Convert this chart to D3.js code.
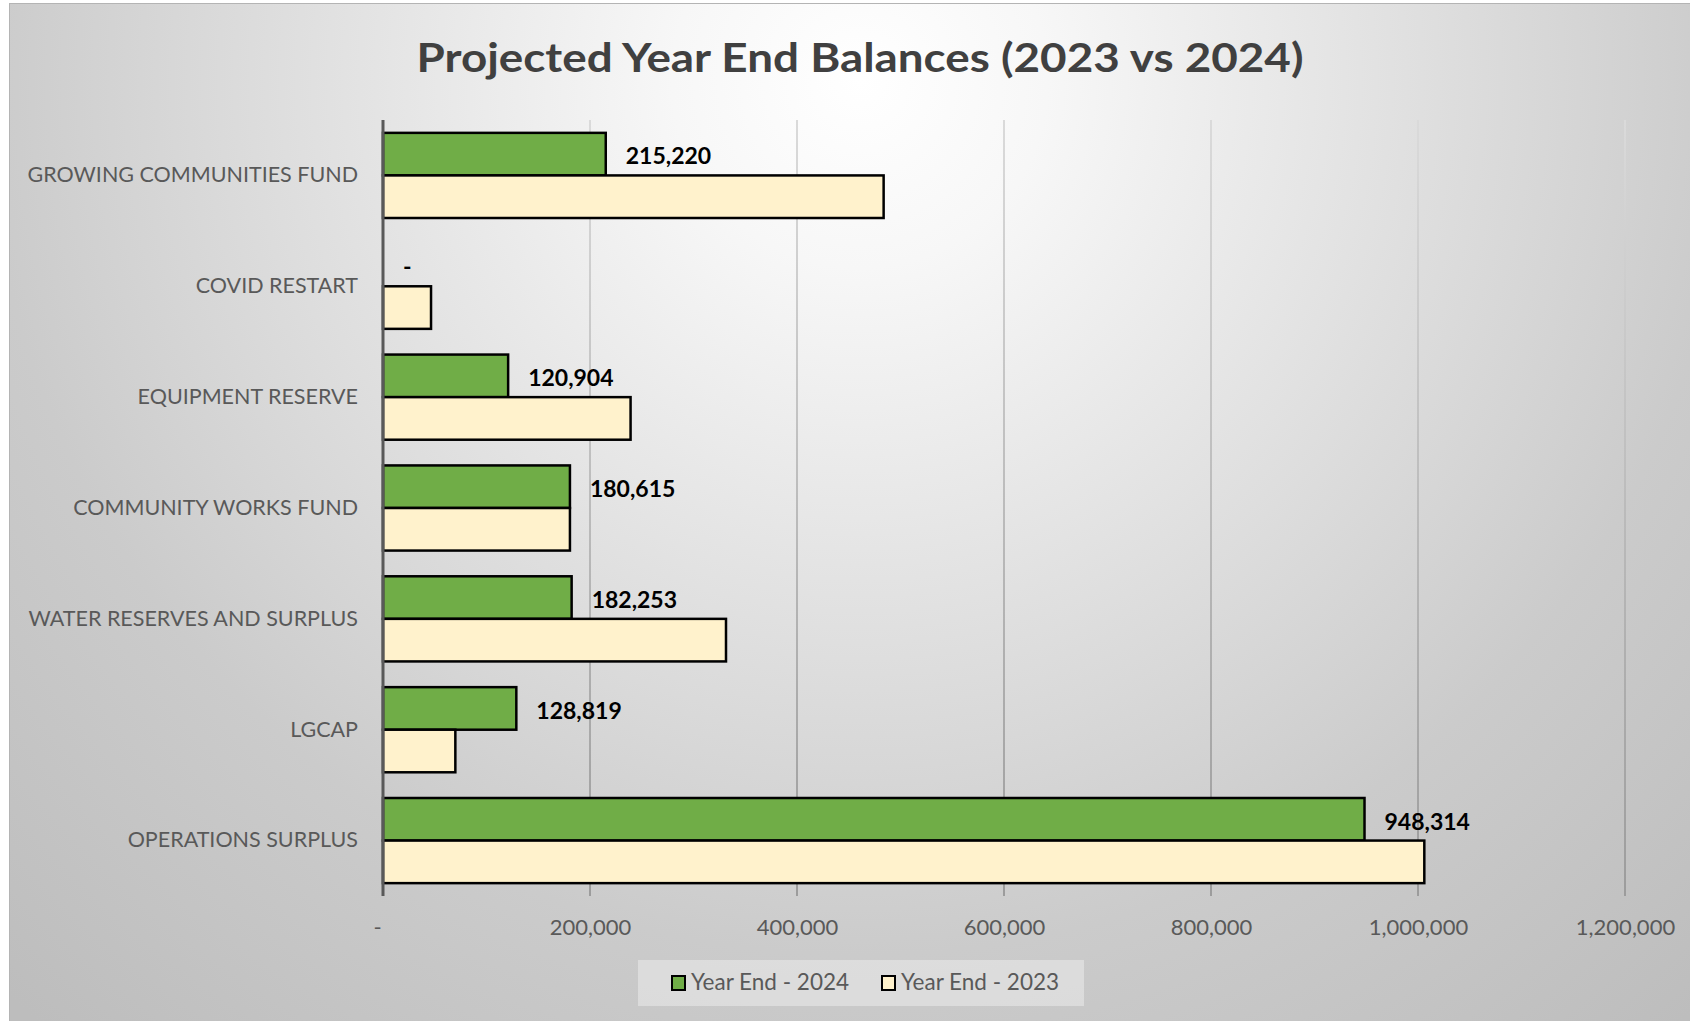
<!DOCTYPE html>
<html>
<head>
<meta charset="utf-8">
<script src="https://cdn.jsdelivr.net/npm/d3@7"></script>
<style>
  html, body { margin: 0; padding: 0; background: #fff; }
  svg { display: block; }
  text { font-family: Lato, "Open Sans", sans-serif; }
</style>
</head>
<body>
<svg id="chart" width="1690" height="1021"></svg>
<script>
    // chart data
    var categories = [
        "GROWING COMMUNITIES FUND",
        "COVID RESTART",
        "EQUIPMENT RESERVE",
        "COMMUNITY WORKS FUND",
        "WATER RESERVES AND SURPLUS",
        "LGCAP",
        "OPERATIONS SURPLUS"
    ];
    var seriesNames = ["Year End - 2024", "Year End - 2023"];
    var values2024 = [215220, 0, 120904, 180615, 182253, 128819, 948314];
    var values2023 = [483700, 46400, 239200, 180615, 331400, 69900, 1006100];
    var xTicks = [0, 200000, 400000, 600000, 800000, 1000000, 1200000];
    var xMax = 1200000;

    var green = "#70ad47", cream = "#fff2cc";
    var plotLeft = 383, plotRight = 1625, plotTop = 120, plotBottom = 896;

    var svg = d3.select("#chart");
    var defs = svg.append("defs");

    var bgGrad = defs.append("radialGradient")
        .attr("id", "bgGrad")
        .attr("gradientUnits", "userSpaceOnUse")
        .attr("cx", 860).attr("cy", 80).attr("r", 1250);
    bgGrad.append("stop").attr("offset", 0).attr("stop-color", "#ffffff");
    bgGrad.append("stop").attr("offset", 0.15).attr("stop-color", "#f7f7f7");
    bgGrad.append("stop").attr("offset", 0.7).attr("stop-color", "#cbcbcb");
    bgGrad.append("stop").attr("offset", 1).attr("stop-color", "#bdbdbd");

    var gridGrad = defs.append("linearGradient")
        .attr("id", "gridGrad")
        .attr("gradientUnits", "userSpaceOnUse")
        .attr("x1", 0).attr("y1", plotTop).attr("x2", 0).attr("y2", plotBottom);
    gridGrad.append("stop").attr("offset", 0).attr("stop-color", "#dadada");
    gridGrad.append("stop").attr("offset", 1).attr("stop-color", "#9c9c9c");

    // chart area
    svg.append("rect")
        .attr("x", 9.5).attr("y", 3.5)
        .attr("width", 1700).attr("height", 1040)
        .attr("fill", "url(#bgGrad)")
        .attr("stroke", "#b4b4b4")
        .attr("stroke-width", 1);

    var x = d3.scaleLinear().domain([0, xMax]).range([plotLeft, plotRight]);
    var y = d3.scaleBand().domain(categories).range([plotTop, plotBottom]);
    var barH = y.bandwidth() * 0.384;
    var gap = (y.bandwidth() - 2 * barH) / 2;

    // gridlines
    svg.append("g")
        .selectAll("line")
        .data(xTicks.slice(1))
        .enter()
        .append("line")
        .attr("x1", d => x(d)).attr("x2", d => x(d))
        .attr("y1", plotTop).attr("y2", plotBottom)
        .attr("stroke", "url(#gridGrad)")
        .attr("stroke-width", 2);

    // bars
    var bars = svg.append("g");
    bars.selectAll("rect.y2024")
        .data(categories)
        .enter()
        .append("rect")
        .attr("class", "y2024")
        .attr("x", x(0))
        .attr("y", d => y(d) + gap)
        .attr("width", (d, i) => x(values2024[i]) - x(0))
        .attr("height", barH)
        .attr("fill", green)
        .attr("stroke", "#000")
        .attr("stroke-width", 2.5)
        .style("display", (d, i) => values2024[i] > 0 ? null : "none");

    bars.selectAll("rect.y2023")
        .data(categories)
        .enter()
        .append("rect")
        .attr("class", "y2023")
        .attr("x", x(0))
        .attr("y", d => y(d) + gap + barH)
        .attr("width", (d, i) => x(values2023[i]) - x(0))
        .attr("height", barH)
        .attr("fill", cream)
        .attr("stroke", "#000")
        .attr("stroke-width", 2.5);

    // data labels for 2024
    var fmt = d3.format(",");
    svg.append("g")
        .selectAll("text")
        .data(categories)
        .enter()
        .append("text")
        .attr("x", (d, i) => x(values2024[i]) + 20)
        .attr("y", d => y(d) + gap + barH / 2 + 2)
        .attr("dy", "0.36em")
        .attr("fill", "#000")
        .style("font-size", "23px")
        .style("font-weight", "bold")
        .text((d, i) => values2024[i] === 0 ? "-" : fmt(values2024[i]));

    // vertical axis line
    svg.append("line")
        .attr("x1", plotLeft).attr("x2", plotLeft)
        .attr("y1", plotTop).attr("y2", plotBottom)
        .attr("stroke", "#595959")
        .attr("stroke-width", 3);

    // category axis
    var yAxis = svg.append("g")
        .attr("transform", "translate(" + plotLeft + ",0)")
        .call(d3.axisLeft(y).tickSize(0).tickPadding(25));
    yAxis.select(".domain").remove();
    yAxis.selectAll("text")
        .attr("fill", "#595959")
        .style("font-size", "21.5px")
        .style("font-family", "Lato, sans-serif");

    // value axis
    var xAxis = svg.append("g")
        .attr("transform", "translate(0," + plotBottom + ")")
        .call(d3.axisBottom(x).tickValues(xTicks).tickSize(0).tickPadding(23)
            .tickFormat(d => d === 0 ? "-" : fmt(d)));
    xAxis.select(".domain").remove();
    xAxis.selectAll("text")
        .attr("fill", "#595959")
        .attr("dx", d => d === 0 ? -6 : 0)
        .style("font-size", "22px")
        .style("font-family", "Lato, sans-serif");

    // title
    svg.append("text")
        .attr("x", 860)
        .attr("y", 72)
        .attr("text-anchor", "middle")
        .attr("fill", "#404040")
        .attr("textLength", 887)
        .attr("lengthAdjust", "spacingAndGlyphs")
        .style("font-size", "40px")
        .style("font-weight", "bold")
        .text("Projected Year End Balances (2023 vs 2024)");

    // legend
    var legend = svg.append("g");
    legend.append("rect")
        .attr("x", 638).attr("y", 960)
        .attr("width", 446).attr("height", 46)
        .attr("fill", "#ffffff")
        .attr("fill-opacity", 0.35);

    var legendX = [672, 882];
    var legendColors = [green, cream];
    seriesNames.forEach(function (name, i) {
        legend.append("rect")
            .attr("x", legendX[i]).attr("y", 976)
            .attr("width", 13).attr("height", 14)
            .attr("fill", legendColors[i])
            .attr("stroke", "#000")
            .attr("stroke-width", 2);
        legend.append("text")
            .attr("x", legendX[i] + 19)
            .attr("y", 990)
            .attr("fill", "#595959")
            .style("font-size", "22.5px")
            .text(name);
    });
</script>
</body>
</html>
